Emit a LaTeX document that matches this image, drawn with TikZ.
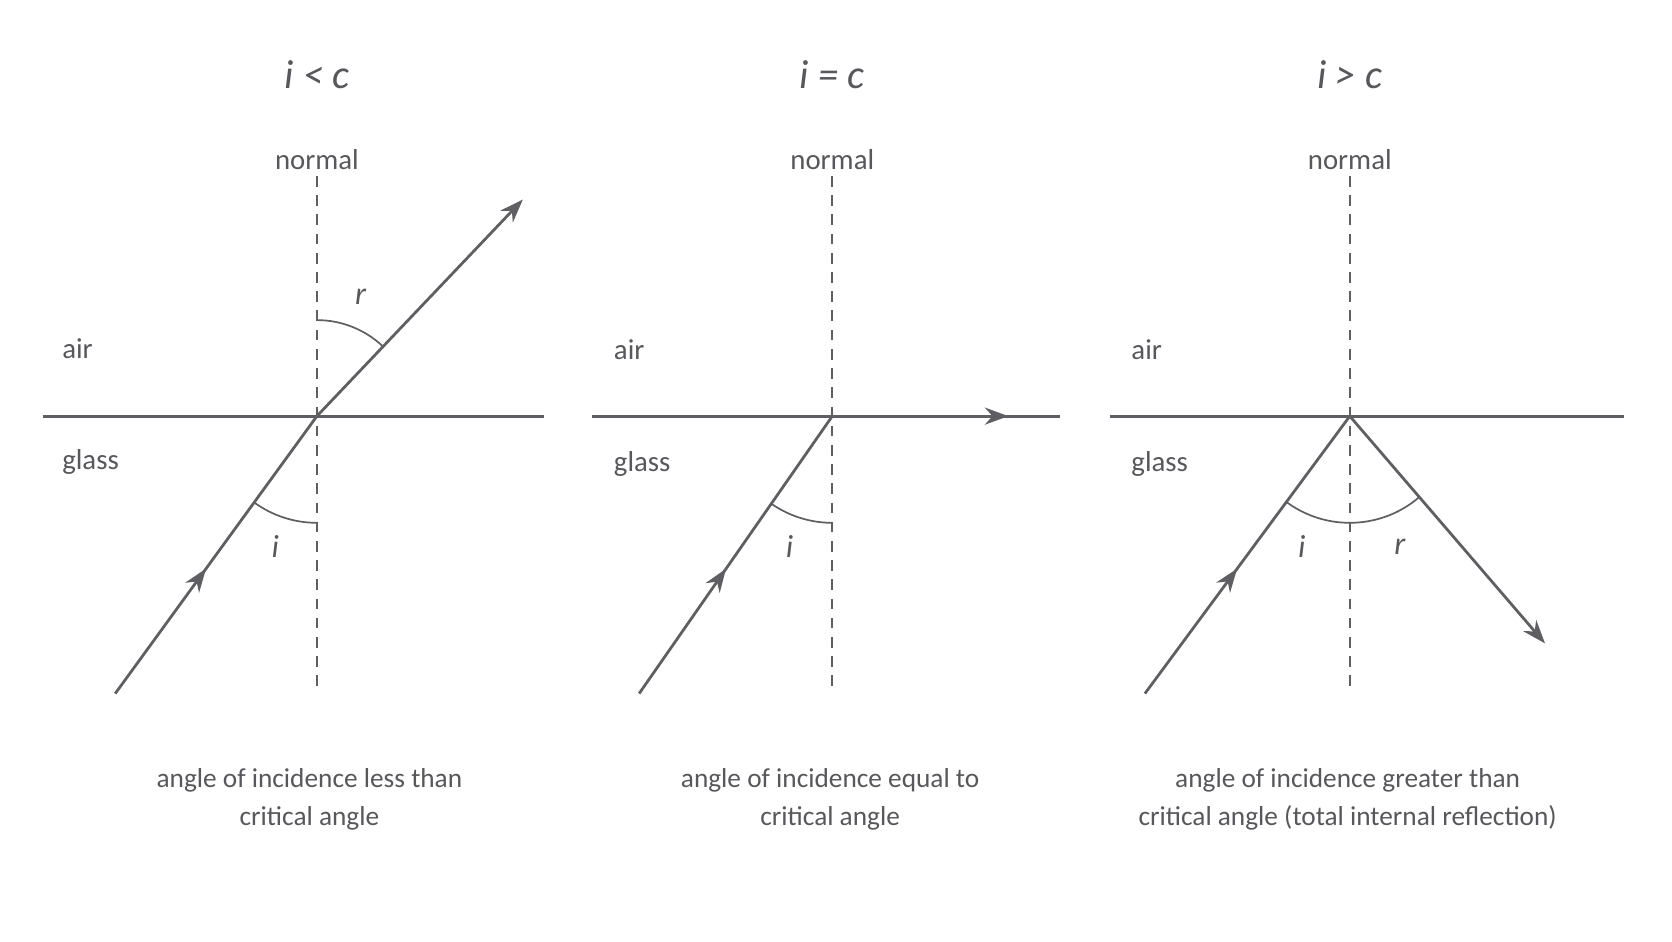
\documentclass[tikz,border=0pt]{standalone}
\usepackage{fontspec}
\setmainfont{Carlito}
\usetikzlibrary{arrows.meta,decorations.markings}
\definecolor{ink}{HTML}{5F5F63}
\definecolor{txt}{HTML}{58585C}
\begin{document}
\begin{tikzpicture}[x=0.5pt,y=-0.5pt,
  ray/.style={draw=ink,line width=1.3pt},
  midarrow/.style={ray,postaction={decorate},decoration={markings,mark=at position #1 with {\arrow[ink]{Stealth[length=11pt,width=8pt]}}}},
  endarrow/.style={ray,-{Stealth[length=11pt,width=8pt]}},
  iface/.style={draw=ink,line width=1.3pt},
  norm/.style={draw=ink,line width=0.9pt,dash pattern=on 5pt off 4pt},
  arcl/.style={draw=ink,line width=0.8pt},
  lbl/.style={text=txt,font=\fontsize{13.5}{16}\selectfont,inner sep=0pt},
  ilbl/.style={text=txt,font=\fontsize{15}{17}\selectfont\itshape,inner sep=0pt},
  ttl/.style={text=txt,font=\fontsize{19}{22}\selectfont\itshape,inner sep=0pt},
  captxt/.style={text=txt,font=\fontsize{12.8}{17.5}\selectfont,align=center,inner sep=0pt}]
\fill[white] (0,0) rectangle (1567,882);
\useasboundingbox (0,0) rectangle (1567,882);
% Panel 1
\node[ttl] (t1) at (297,70) {i < c};
\node[lbl] (n1) at (297,150) {normal};
\node[lbl,anchor=west] (a1) at (58,327) {air};
\node[lbl,anchor=west] (g1) at (58,433) {glass};
\coordinate (o1) at (297,390);
\coordinate (nt1) at (297,165); \coordinate (nb1) at (297,648);
\coordinate (l1) at (40,390); \coordinate (r1) at (510,390);
\coordinate (s1) at (108,650); \coordinate (e1) at (490,187);
\draw[norm] (nt1) -- (nb1);
\draw[iface] (l1) -- (r1);
\draw[midarrow=0.45] (s1) -- (o1);
\draw[endarrow] (o1) -- (e1);
\draw[arcl] ([shift={(270:90)}]o1) arc[start angle=270,end angle=313.5,radius=90];
\draw[arcl] ([shift={(90:100)}]o1) arc[start angle=90,end angle=126,radius=100];
\node[ilbl] (r1l) at (338,278) {r};
\node[ilbl] (i1l) at (258,512) {i};
\node[captxt] (c1) at (290,749) {angle of incidence less than\\critical angle};
% Panel 2
\node[ttl] (t2) at (780,70) {i = c};
\node[lbl] (n2) at (780,150) {normal};
\node[lbl,anchor=west] (a2) at (575,328) {air};
\node[lbl,anchor=west] (g2) at (575,435) {glass};
\coordinate (o2) at (780,390);
\coordinate (nt2) at (780,165); \coordinate (nb2) at (780,648);
\coordinate (l2) at (555,390); \coordinate (r2) at (993,390);
\coordinate (s2) at (599,650); \coordinate (e2) at (945,390);
\draw[norm] (nt2) -- (nb2);
\draw[iface] (l2) -- (r2);
\draw[midarrow=0.45] (s2) -- (o2);
\draw[endarrow] (o2) -- (e2);
\draw[arcl] ([shift={(90:100)}]o2) arc[start angle=90,end angle=125,radius=100];
\node[ilbl] (i2l) at (740,512) {i};
\node[captxt] (c2) at (778,749) {angle of incidence equal to\\critical angle};
% Panel 3
\node[ttl] (t3) at (1265,70) {i > c};
\node[lbl] (n3) at (1265,150) {normal};
\node[lbl,anchor=west] (a3) at (1060,328) {air};
\node[lbl,anchor=west] (g3) at (1060,435) {glass};
\coordinate (o3) at (1265,390);
\coordinate (nt3) at (1265,165); \coordinate (nb3) at (1265,648);
\coordinate (l3) at (1040,390); \coordinate (r3) at (1522,390);
\coordinate (s3) at (1073,650); \coordinate (e3) at (1448,603);
\draw[norm] (nt3) -- (nb3);
\draw[iface] (l3) -- (r3);
\draw[midarrow=0.45] (s3) -- (o3);
\draw[endarrow] (o3) -- (e3);
\draw[arcl] ([shift={(126:100)}]o3) arc[start angle=126,end angle=49.3,radius=100];
\node[ilbl] (i3l) at (1220,512) {i};
\node[ilbl] (r3l) at (1312,512) {r};
\node[captxt] (c3) at (1263,749) {angle of incidence greater than\\critical angle (total internal reflection)};
\end{tikzpicture}
\end{document}
